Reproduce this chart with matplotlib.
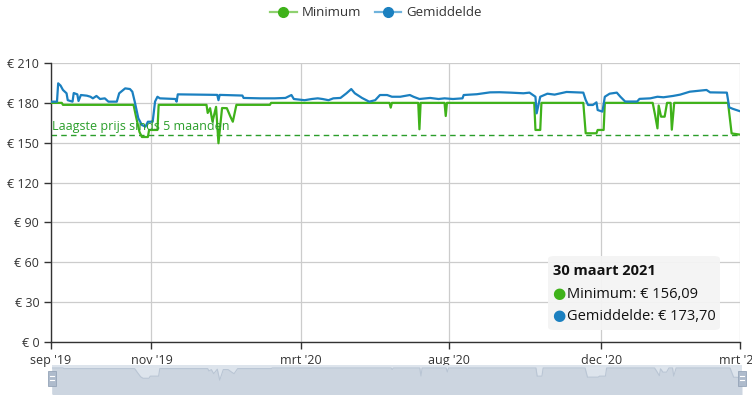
import numpy as np
import pandas as pd
import matplotlib
matplotlib.use('Agg')
from matplotlib import pyplot as plt
from matplotlib.lines import Line2D
from matplotlib.patches import FancyBboxPatch, Rectangle

plt.rcParams['font.family'] = ['Open Sans', 'DejaVu Sans']

# prijsverloop: minimum
min_dates = ['2019-09-01', '2019-09-10', '2019-09-11', '2019-11-09', '2019-11-11', '2019-11-14',
             '2019-11-16', '2019-11-21', '2019-11-22', '2019-11-29', '2019-11-30', '2020-01-09',
             '2020-01-10', '2020-01-12', '2020-01-14', '2020-01-17', '2020-01-19', '2020-01-22',
             '2020-01-26', '2020-01-29', '2020-01-31', '2020-02-03', '2020-03-02', '2020-03-03',
             '2020-06-10', '2020-06-11', '2020-06-12', '2020-07-04', '2020-07-05', '2020-07-06',
             '2020-07-26', '2020-07-27', '2020-07-28', '2020-10-09', '2020-10-10', '2020-10-14',
             '2020-10-15', '2020-11-19', '2020-11-21', '2020-11-30', '2020-12-01', '2020-12-06',
             '2020-12-07', '2021-01-16', '2021-01-18', '2021-01-20', '2021-01-21', '2021-01-23',
             '2021-01-26', '2021-01-28', '2021-01-31', '2021-02-01', '2021-02-03', '2021-03-20',
             '2021-03-23', '2021-03-30']
min_vals = [180.0, 180.0, 178.5, 178.5, 170.0, 158.0,
            154.3, 154.3, 159.6, 159.6, 178.5, 178.5,
            172.4, 176.0, 165.8, 177.0, 149.6, 176.1,
            176.0, 169.6, 165.8, 178.5, 178.5, 180.0,
            180.0, 176.4, 180.0, 180.0, 160.1, 180.0,
            180.0, 170.1, 180.0, 180.0, 159.6, 159.6,
            180.0, 180.0, 157.1, 157.1, 159.6, 159.6,
            180.0, 180.0, 170.9, 160.8, 178.0, 169.6,
            169.6, 180.0, 180.0, 159.8, 180.0, 180.0,
            157.0, 156.09]

# prijsverloop: gemiddelde
avg_dates = ['2019-09-01', '2019-09-06', '2019-09-07', '2019-09-09', '2019-09-11', '2019-09-14',
             '2019-09-15', '2019-09-19', '2019-09-20', '2019-09-23', '2019-09-24', '2019-09-26',
             '2019-10-01', '2019-10-04', '2019-10-06', '2019-10-09', '2019-10-12', '2019-10-16',
             '2019-10-19', '2019-10-26', '2019-10-28', '2019-11-02', '2019-11-06', '2019-11-08',
             '2019-11-10', '2019-11-13', '2019-11-16', '2019-11-19', '2019-11-21', '2019-11-25',
             '2019-11-27', '2019-11-29', '2019-12-01', '2019-12-14', '2019-12-15', '2019-12-16',
             '2020-01-18', '2020-01-19', '2020-01-20', '2020-02-08', '2020-02-09', '2020-02-23',
             '2020-03-06', '2020-03-15', '2020-03-20', '2020-03-22', '2020-03-31', '2020-04-06',
             '2020-04-11', '2020-04-15', '2020-04-20', '2020-04-24', '2020-04-30', '2020-05-05',
             '2020-05-09', '2020-05-12', '2020-05-18', '2020-05-24', '2020-05-29', '2020-06-02',
             '2020-06-08', '2020-06-12', '2020-06-19', '2020-06-27', '2020-06-30', '2020-07-05',
             '2020-07-14', '2020-07-21', '2020-07-26', '2020-08-02', '2020-08-10', '2020-08-11',
             '2020-08-22', '2020-09-02', '2020-09-10', '2020-09-19', '2020-09-30', '2020-10-05',
             '2020-10-10', '2020-10-11', '2020-10-14', '2020-10-20', '2020-10-26', '2020-11-05',
             '2020-11-19', '2020-11-21', '2020-11-23', '2020-11-27', '2020-11-30', '2020-12-01',
             '2020-12-05', '2020-12-07', '2020-12-11', '2020-12-17', '2020-12-20', '2020-12-24',
             '2021-01-03', '2021-01-05', '2021-01-14', '2021-01-20', '2021-01-25', '2021-02-02',
             '2021-02-08', '2021-02-16', '2021-03-02', '2021-03-05', '2021-03-19', '2021-03-21',
             '2021-03-24', '2021-03-30']
avg_vals = [180.9, 180.9, 194.7, 193.0, 189.7, 187.2,
            182.0, 180.9, 187.4, 186.4, 181.4, 185.9,
            185.4, 184.6, 183.4, 185.2, 182.9, 183.4,
            180.9, 180.9, 187.2, 190.9, 190.4, 188.4,
            180.9, 168.4, 163.3, 162.1, 165.8, 165.8,
            181.0, 184.6, 183.4, 182.9, 180.9, 186.4,
            186.0, 182.0, 186.0, 185.5, 183.7, 183.4,
            183.4, 183.7, 185.9, 182.9, 182.0, 182.9,
            183.4, 182.9, 182.0, 183.4, 183.7, 187.2,
            190.4, 187.2, 183.7, 180.9, 182.0, 185.9,
            185.9, 184.6, 184.6, 185.9, 184.6, 182.9,
            183.7, 182.9, 183.4, 182.9, 183.4, 185.9,
            186.5, 187.9, 188.0, 187.7, 187.2, 187.7,
            184.6, 172.1, 184.6, 186.9, 186.2, 188.2,
            187.7, 182.2, 178.4, 178.4, 180.4, 174.6,
            173.4, 184.6, 186.9, 187.7, 184.6, 181.0,
            181.0, 183.0, 183.4, 184.6, 184.2, 185.2,
            186.2, 188.4, 189.7, 187.9, 187.7, 176.6,
            175.5, 173.7]

lowest_5m = 156.09
y_ticks = [0, 30, 60, 90, 120, 150, 180, 210]
x_start, x_end = '2019-09-01', '2021-03-30'
x_tick_dates = ['2019-09-01', '2019-11-24', '2020-03-28', '2020-07-30', '2020-12-04', '2021-03-30']
x_tick_labels = ["sep '19", "nov '19", "mrt '20", "aug '20", "dec '20", "mrt '21"]

green = '#3fb21a'
blue = '#1b80c0'

min_d = pd.to_datetime(min_dates)
avg_d = pd.to_datetime(avg_dates)

fig = plt.figure(figsize=(7.52, 3.98), dpi=100)
ax = fig.add_axes([51 / 752, 1 - 342 / 398, 689 / 752, 279 / 398])

ax.plot(min_d, min_vals, color=green, lw=1.6, zorder=3)
ax.plot(avg_d, avg_vals, color=blue, lw=1.6, zorder=3)
ax.axhline(lowest_5m, color='#2a9e2a', lw=1, ls=(0, (4, 3)), zorder=2)
ax.text(pd.Timestamp('2019-09-02'), lowest_5m + 1.5, 'Laagste prijs sinds 5 maanden',
        color='#2a9e2a', fontsize=9, va='bottom', ha='left', zorder=4)

ax.set_xlim(pd.Timestamp(x_start), pd.Timestamp(x_end))
ax.set_ylim(0, 210)
ax.set_yticks(y_ticks)
ax.set_yticklabels(['€ %d' % v for v in y_ticks])
ax.set_xticks(pd.to_datetime(x_tick_dates))
ax.set_xticklabels(x_tick_labels)
ax.tick_params(axis='both', labelsize=9, colors='#333333', length=5, width=1)
ax.grid(True, color='#cccccc', lw=0.9)
ax.set_axisbelow(True)
for s in ['top', 'right']:
    ax.spines[s].set_visible(False)
for s in ['left', 'bottom']:
    ax.spines[s].set_color('#333333')
    ax.spines[s].set_linewidth(1)

# tooltip
tip = FancyBboxPatch((548 / 752, 1 - 330 / 398), 172 / 752, 74 / 398,
                     boxstyle='round,pad=0,rounding_size=0.008', transform=fig.transFigure,
                     facecolor='#f4f4f4', edgecolor='none', alpha=0.95, zorder=10)
fig.patches.append(tip)
fig.text(553 / 752, 1 - 271 / 398, '30 maart 2021', fontsize=10.5, fontweight='bold',
         va='center', ha='left', color='#111111', zorder=11)
fig.text(552 / 752, 1 - 294 / 398, '●', color=green, fontsize=11, va='center', zorder=11)
fig.text(567 / 752, 1 - 294 / 398, 'Minimum: € %s' % ('%.2f' % min_vals[-1]).replace('.', ','),
         fontsize=10.5, va='center', ha='left', color='#111111', zorder=11)
fig.text(552 / 752, 1 - 317 / 398, '●', color=blue, fontsize=11, va='center', zorder=11)
fig.text(567 / 752, 1 - 317 / 398, 'Gemiddelde: € %s' % ('%.2f' % avg_vals[-1]).replace('.', ','),
         fontsize=10.5, va='center', ha='left', color='#111111', zorder=11)

# legend
handles = [Line2D([], [], color='#8fd16f', lw=1.6, marker='o', markersize=7,
                  markerfacecolor=green, markeredgecolor=green),
           Line2D([], [], color='#6fb3dc', lw=1.6, marker='o', markersize=7,
                  markerfacecolor=blue, markeredgecolor=blue)]
fig.legend(handles, ['Minimum', 'Gemiddelde'], loc='center', bbox_to_anchor=(0.5, 1 - 13 / 398),
           ncol=2, frameon=False, fontsize=9.5, handlelength=2.0, columnspacing=1.0,
           handletextpad=0.4, labelcolor='#333333')

# navigator
nav = fig.add_axes([52 / 752, 1 - 394 / 398, 690 / 752, 29 / 398])
nav.set_facecolor('#dde4ec')
nav.fill_between(min_d, min_vals, 100, color='#ccd5e0', lw=0)
nav.plot(min_d, min_vals, color='#b9c5d4', lw=0.8)
nav.set_xlim(pd.Timestamp(x_start), pd.Timestamp(x_end))
nav.set_ylim(115, 187.5)
nav.set_xticks([])
nav.set_yticks([])
for s in nav.spines.values():
    s.set_visible(False)
for hx in [52, 742]:
    fig.patches.append(Rectangle(((hx - 4) / 752, 1 - 386 / 398), 8 / 752, 15 / 398,
                                 transform=fig.transFigure, facecolor='#aebbcc',
                                 edgecolor='#95a4b8', lw=0.6, zorder=5))
    for hy in [376, 380]:
        fig.lines.append(Line2D([(hx - 2) / 752, (hx + 2) / 752], [1 - hy / 398, 1 - hy / 398],
                                transform=fig.transFigure, color='white', lw=0.8, zorder=6))

plt.savefig('out.png', dpi=100)
